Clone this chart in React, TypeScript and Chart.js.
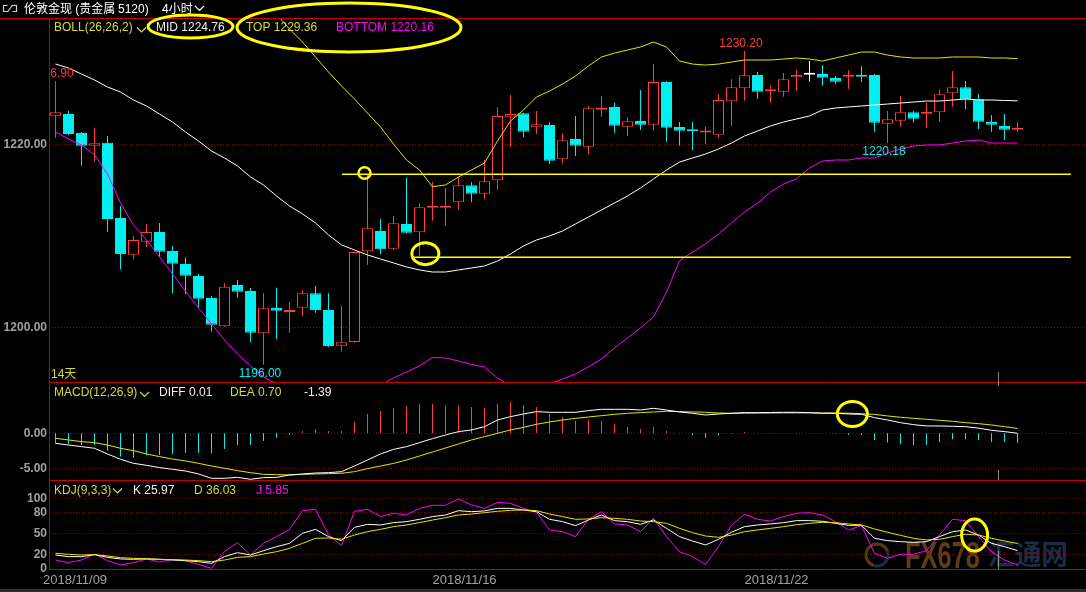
import React, { useEffect, useRef } from 'react';
import { Chart, registerables } from 'chart.js';

Chart.register(...registerables);

// ---------------- data (4-hour candles, London gold) ----------------
const OPEN = [
  1223.14, 1223.32, 1221.25, 1219.87, 1220.2, 1211.99, 1207.99, 1209.41, 1210.46, 1208.39,
  1206.98, 1205.67, 1203.27, 1200.19, 1204.69, 1204.03, 1199.42, 1202.18, 1201.74, 1202.21,
  1203.78, 1201.96, 1198.07, 1198.47, 1208.36, 1210.57, 1208.64, 1211.34, 1210.43, 1213.11,
  1213.1, 1213.7, 1215.55, 1214.64, 1216.1, 1222.96, 1223.4, 1221.87, 1222.13, 1218.39,
  1220.6, 1219.76, 1223.8, 1224.09, 1221.94, 1222.56, 1222.16, 1226.81, 1221.91, 1221.61,
  1221.3, 1221.07, 1224.71, 1226.13, 1227.57, 1225.8, 1225.75, 1227.32, 1227.6, 1227.68,
  1227.25, 1227.39, 1227.57, 1227.57, 1222.27, 1222.59, 1223.51, 1223.35, 1223.51, 1225.58,
  1226.23, 1224.93, 1222.45, 1222.02, 1221.62,
];
const HIGH = [
  1226.9, 1223.65, 1221.36, 1221.83, 1220.93, 1213.3, 1210.03, 1211.34, 1211.44, 1208.94,
  1207.71, 1205.89, 1203.49, 1204.87, 1205.23, 1204.36, 1203.78, 1204.39, 1202.83, 1204.14,
  1204.58, 1203.78, 1202.43, 1208.3, 1216.78, 1211.85, 1212.21, 1216.35, 1213.59, 1215.91,
  1215.29, 1216.49, 1215.91, 1218.31, 1224.05, 1225.4, 1223.45, 1223.65, 1222.42, 1221.22,
  1223.11, 1224.2, 1225.29, 1224.56, 1222.96, 1225.94, 1228.77, 1226.9, 1222.45, 1222.45,
  1221.94, 1225.5, 1227.11, 1230.2, 1227.9, 1226.49, 1227.79, 1228.12, 1229.1, 1228.66,
  1227.47, 1228.12, 1228.56, 1227.68, 1223.65, 1225.29, 1223.65, 1224.56, 1226.02, 1228.01,
  1226.92, 1225.5, 1223.22, 1223.32, 1222.45,
];
const LOW = [
  1220.74, 1221.04, 1217.69, 1218.13, 1210.5, 1206.4, 1207.49, 1208.8, 1207.77, 1203.78,
  1203.67, 1202.26, 1199.6, 1200.14, 1203.3, 1198.44, 1196.0, 1198.8, 1199.49, 1201.34,
  1201.67, 1197.96, 1197.42, 1198.4, 1206.9, 1208.03, 1208.5, 1210.3, 1207.88, 1211.69,
  1211.15, 1212.89, 1213.73, 1214.03, 1215.04, 1219.76, 1220.78, 1221.14, 1217.87, 1217.95,
  1218.75, 1218.93, 1223.03, 1221.29, 1220.93, 1221.58, 1221.5, 1220.31, 1219.87, 1219.4,
  1220.02, 1220.74, 1222.05, 1224.77, 1224.99, 1224.56, 1225.21, 1225.83, 1226.84, 1226.41,
  1226.63, 1226.05, 1226.81, 1221.4, 1220.18, 1221.94, 1222.38, 1221.83, 1222.49, 1224.12,
  1223.87, 1221.69, 1221.4, 1220.49, 1221.4,
];
const CLOSE = [
  1223.51, 1221.14, 1219.87, 1220.13, 1211.88, 1208.07, 1209.59, 1210.46, 1208.32, 1207.01,
  1205.7, 1203.19, 1200.36, 1204.5, 1203.96, 1199.49, 1202.15, 1201.89, 1201.93, 1203.78,
  1201.96, 1198.04, 1198.44, 1208.28, 1210.87, 1208.58, 1211.41, 1210.39, 1213.16, 1213.3,
  1213.2, 1215.55, 1214.64, 1215.99, 1223.11, 1223.32, 1221.4, 1222.2, 1218.23, 1220.46,
  1219.87, 1223.95, 1223.9, 1222.05, 1222.53, 1222.16, 1226.81, 1221.83, 1221.5, 1221.44,
  1221.42, 1224.85, 1226.23, 1227.54, 1225.75, 1225.9, 1227.11, 1227.57, 1227.6, 1227.28,
  1226.84, 1227.54, 1227.39, 1222.38, 1222.75, 1223.51, 1222.81, 1223.45, 1225.47, 1226.23,
  1224.93, 1222.49, 1222.16, 1221.61, 1221.68,
];

const BOLL_MID = [
  1228.77, 1228.34, 1227.68, 1227.03, 1226.27, 1225.72, 1224.85, 1224.2, 1223.32, 1222.45,
  1221.36, 1220.38, 1219.29, 1218.53, 1217.66, 1216.46, 1215.59, 1214.39, 1213.3, 1212.43,
  1211.45, 1210.14, 1209.05, 1208.5, 1207.96, 1207.52, 1207.09, 1206.65, 1206.32, 1206.1,
  1206.1, 1206.32, 1206.54, 1206.76, 1207.3, 1208.07, 1208.94, 1209.59, 1210.03, 1210.57,
  1211.34, 1212.1, 1212.86, 1213.62, 1214.39, 1215.26, 1216.24, 1217.22, 1218.09, 1218.53,
  1218.96, 1219.51, 1220.16, 1220.93, 1221.47, 1222.02, 1222.45, 1222.78, 1223.11, 1223.76,
  1223.98, 1224.09, 1224.2, 1224.31, 1224.41, 1224.52, 1224.63, 1224.74, 1224.74, 1224.85,
  1224.96, 1224.85, 1224.85, 1224.8, 1224.76,
];
const BOLL_TOP = [
  1236.2, 1236.1, 1235.4, 1235.2, 1235.8, 1237.8, 1238.5, 1238.8, 1238.9, 1239.0,
  1238.7, 1238.6, 1238.1, 1238.4, 1238.1, 1237.1, 1235.6, 1234.2, 1232.59, 1231.17,
  1229.54, 1227.9, 1226.38, 1224.96, 1223.43, 1221.91, 1220.05, 1218.31, 1217.22, 1215.4,
  1215.59, 1216.46, 1217.22, 1217.98, 1220.38, 1222.56, 1223.76, 1225.18, 1225.83, 1226.59,
  1227.47, 1228.56, 1229.54, 1229.97, 1230.3, 1230.63, 1231.17, 1230.63, 1229.1, 1228.77,
  1228.66, 1228.77, 1228.99, 1229.21, 1229.21, 1229.21, 1229.32, 1229.43, 1229.32, 1229.1,
  1229.43, 1229.75, 1230.08, 1230.08, 1229.75, 1229.54, 1229.43, 1229.43, 1229.43, 1229.54,
  1229.54, 1229.54, 1229.43, 1229.43, 1229.36,
];
const BOLL_BOTTOM = [
  1221.36, 1220.6, 1219.95, 1218.86, 1216.78, 1213.62, 1211.23, 1209.59, 1207.74, 1205.89,
  1204.03, 1202.18, 1200.44, 1198.69, 1197.17, 1195.86, 1194.66, 1193.9, 1193.3, 1192.9,
  1192.6, 1192.5, 1192.7, 1193.0, 1193.4, 1193.8, 1194.55, 1195.2, 1195.86, 1196.78,
  1196.73, 1196.4, 1196.02, 1195.75, 1194.55, 1193.7, 1193.3, 1193.4, 1193.9, 1194.44,
  1194.99, 1195.75, 1196.62, 1197.82, 1198.91, 1200.0, 1201.2, 1203.92, 1207.3, 1208.28,
  1209.16, 1210.25, 1211.45, 1212.64, 1213.62, 1214.82, 1215.69, 1216.24, 1217.44, 1218.2,
  1218.31, 1218.31, 1218.53, 1218.53, 1219.07, 1219.51, 1219.84, 1219.95, 1219.95, 1220.16,
  1220.38, 1220.49, 1220.16, 1220.16, 1220.16,
];

const MACD_HIST = [
  -1.43, -1.52, -1.67, -1.67, -2.48, -3.33, -3.48, -3.14, -3.1, -2.95,
  -2.76, -2.76, -2.9, -2.24, -1.67, -1.62, -1.1, -0.62, -0.19, 0.33,
  0.62, 0.33, 0.33, 1.62, 2.81, 3.19, 3.6, 3.9, 4.19, 4.19,
  4.05, 4.05, 3.76, 3.62, 4.19, 4.48, 4.05, 3.76, 2.81, 2.33,
  1.81, 1.9, 1.76, 1.33, 0.9, 0.62, 0.9, 0.33, 0.03, -0.29,
  -0.62, -0.29, -0.05, 0.19, 0.03, 0.06, 0.03, 0.08, 0.05, 0.02,
  -0.05, -0.24, -0.19, -0.95, -1.33, -1.52, -1.67, -1.62, -1.24, -0.86,
  -0.86, -0.95, -1.24, -1.24, -1.39,
];
const MACD_DIFF = [
  -1.43, -1.67, -1.9, -2.14, -2.95, -3.71, -4.29, -4.57, -4.9, -5.14,
  -5.38, -5.81, -6.43, -6.43, -6.29, -6.57, -6.33, -6.29, -5.95, -5.81,
  -5.67, -5.62, -5.48, -4.67, -3.81, -2.95, -2.3, -1.9, -1.33, -0.76,
  -0.24, 0.24, 0.48, 0.95, 1.9, 2.38, 2.76, 3.1, 3.0, 3.0,
  3.0, 3.24, 3.43, 3.43, 3.43, 3.33, 3.57, 3.33, 3.05, 2.86,
  2.62, 2.76, 2.86, 2.95, 2.95, 2.98, 3.0, 3.0, 2.95, 2.86,
  2.86, 2.76, 2.71, 2.24, 1.9, 1.52, 1.24, 1.05, 1.05, 1.0,
  0.95, 0.74, 0.43, 0.24, 0.01,
];
const MACD_DEA = [
  -0.71, -0.95, -1.19, -1.33, -1.67, -2.14, -2.48, -2.95, -3.33, -3.67,
  -3.95, -4.29, -4.67, -5.0, -5.33, -5.62, -5.86, -5.9, -5.95, -5.86,
  -5.81, -5.76, -5.71, -5.48, -5.05, -4.67, -4.3, -3.81, -3.24, -2.67,
  -2.1, -1.52, -0.95, -0.48, 0.0, 0.48, 0.86, 1.29, 1.62, 1.9,
  2.14, 2.33, 2.52, 2.71, 2.86, 2.95, 3.05, 3.14, 3.1, 3.05,
  3.0, 2.9, 2.86, 2.88, 2.9, 2.9, 2.92, 2.92, 2.92, 2.9,
  2.9, 2.88, 2.8, 2.7, 2.48, 2.29, 2.14, 2.0, 1.86, 1.71,
  1.52, 1.38, 1.19, 0.95, 0.7,
];

const KDJ_K = [
  19.8, 17.5, 17.5, 20.3, 16.5, 14.2, 13.7, 14.2, 13.7, 12.7,
  11.8, 10.4, 8.0, 17.5, 23.1, 19.8, 25.9, 31.6, 36.3, 50.5,
  56.1, 45.8, 40.1, 59.0, 63.2, 62.3, 65.6, 67.0, 70.3, 74.1,
  76.4, 82.5, 81.1, 82.1, 85.8, 85.8, 83.5, 81.1, 70.3, 67.0,
  61.3, 69.3, 76.4, 68.4, 67.0, 63.2, 69.3, 57.5, 45.8, 39.6,
  34.0, 42.0, 52.0, 59.9, 62.3, 63.7, 65.6, 68.4, 68.4, 67.5,
  64.6, 61.8, 61.8, 43.4, 40.1, 38.7, 37.7, 38.7, 45.8, 52.8,
  55.2, 48.1, 36.3, 31.6, 25.97,
];
const KDJ_D = [
  22.2, 20.8, 19.8, 20.3, 18.4, 16.0, 15.1, 14.6, 13.7, 13.2,
  12.7, 11.8, 10.4, 12.7, 16.5, 17.5, 21.2, 24.5, 29.2, 36.3,
  43.4, 43.9, 42.0, 48.1, 52.8, 56.1, 59.9, 62.3, 65.6, 69.3,
  72.6, 76.4, 77.8, 79.7, 81.6, 83.0, 83.5, 82.5, 77.8, 74.1,
  70.3, 70.8, 72.6, 71.7, 70.3, 67.9, 67.0, 64.6, 57.5, 51.4,
  46.7, 44.8, 48.0, 52.8, 55.2, 57.5, 59.9, 62.7, 64.6, 66.0,
  65.6, 63.7, 62.3, 56.6, 51.9, 47.6, 43.4, 41.0, 42.0, 45.8,
  49.1, 48.1, 43.4, 39.6, 36.03,
];
const KDJ_J = [
  12.7, 9.0, 12.7, 21.2, 11.8, 5.7, 9.0, 14.2, 9.9, 13.7,
  11.3, 6.6, 0.9, 25.0, 37.3, 19.8, 36.3, 45.8, 56.1, 82.5,
  84.4, 48.1, 33.0, 81.6, 84.4, 74.1, 78.8, 76.4, 85.8, 90.1,
  90.1, 99.1, 90.6, 85.8, 94.3, 92.9, 85.8, 80.2, 55.2, 52.8,
  45.8, 70.3, 81.1, 63.7, 62.3, 52.8, 71.7, 45.8, 24.5, 17.5,
  6.6, 31.6, 62.0, 77.4, 70.3, 67.9, 74.1, 78.8, 79.7, 76.4,
  67.0, 55.2, 61.3, 22.2, 15.1, 20.8, 20.8, 25.9, 48.1, 70.3,
  68.4, 45.8, 24.5, 12.7, 5.85,
];

const DATE_LABELS = ['2018/11/09', '2018/11/16', '2018/11/22'];
const DATE_INDEX = [0, 29, 53];
const MAIN_TICKS = [1220, 1200];
const MACD_TICKS = [0, -5];
const KDJ_TICKS = [100, 80, 50, 20, 0];
const KDJ_GRID = [100, 80, 50, 20];
const EXTREMES = [
  { index: 0, kind: 'high' },
  { index: 16, kind: 'low' },
  { index: 53, kind: 'high' },
  { index: 64, kind: 'low' },
];
// hand-drawn marks (in data coordinates)
const SUPPORT_LINES = [
  { value: 1216.75, from: 22.04 },
  { value: 1207.71, from: 27.58 },
];
const SUPPORT_END = 78.1;

// ---------------- layout / style ----------------
const W = 1086;
const LEFT = 49;
const STEP = 13;
const X_MIN = -0.5;
const X_MAX = X_MIN + (W - LEFT) / STEP;

const RED = '#ff3c3c';
const CYAN = '#00f0f0';
const WHITE = '#f0f0f0';
const YLINE = '#e6e600';
const YTEXT = '#d8d83c';
const MAGENTA = '#ff00ff';
const BORDER = '#c80000';
const GRID = '#8c0000';
const GREY = '#a0a0a0';
const MARK = '#ffff00';
const FONT = '12px "Liberation Sans", Arial, sans-serif';
const FONT_B = 'bold 12px "Liberation Sans", Arial, sans-serif';
const FONT_CJK = '12px "Liberation Sans", "Noto Sans CJK SC", sans-serif';

const IDX = OPEN.map((_, i) => i);
const candleColor = (i: number) => (CLOSE[i] > OPEN[i] ? RED : CLOSE[i] < OPEN[i] ? CYAN : '#ffffff');
const pts = (arr: number[]) => arr.map((v, i) => ({ x: i, y: v }));
const last = (arr: number[]) => arr[arr.length - 1].toFixed(2);

function text(ctx: any, s: string, x: number, y: number, color: string, font = FONT, align = 'left', base = 'alphabetic') {
  ctx.font = font;
  ctx.fillStyle = color;
  ctx.textAlign = align;
  ctx.textBaseline = base;
  ctx.fillText(s, x, y);
  return ctx.measureText(s).width;
}
function chevron(ctx: any, x: number, y: number, color: string) {
  ctx.save();
  ctx.strokeStyle = color;
  ctx.lineWidth = 1.2;
  ctx.beginPath();
  ctx.moveTo(x, y);
  ctx.lineTo(x + 4.5, y + 4.5);
  ctx.lineTo(x + 9, y);
  ctx.stroke();
  ctx.restore();
}
function hline(ctx: any, x1: number, x2: number, y: number, color: string, dash: number[] = []) {
  ctx.save();
  ctx.strokeStyle = color;
  ctx.lineWidth = 1;
  ctx.setLineDash(dash);
  ctx.beginPath();
  ctx.moveTo(x1, y);
  ctx.lineTo(x2, y);
  ctx.stroke();
  ctx.restore();
}
function vline(ctx: any, x: number, y1: number, y2: number, color: string) {
  ctx.save();
  ctx.strokeStyle = color;
  ctx.lineWidth = 1;
  ctx.beginPath();
  ctx.moveTo(x, y1);
  ctx.lineTo(x, y2);
  ctx.stroke();
  ctx.restore();
}
function ellipse(ctx: any, cx: number, cy: number, rx: number, ry: number, lw = 3) {
  ctx.save();
  ctx.strokeStyle = MARK;
  ctx.lineWidth = lw;
  ctx.beginPath();
  ctx.ellipse(cx, cy, rx, ry, 0, 0, Math.PI * 2);
  ctx.stroke();
  ctx.restore();
}
function grid(chart: any, values: number[]) {
  const { ctx, chartArea: a } = chart;
  const y = chart.scales.y;
  for (const v of values) hline(ctx, a.left, a.right, Math.floor(y.getPixelForValue(v)) + 0.5, GRID, [1, 2]);
}
function yLabels(chart: any, values: number[], digits: number) {
  const { ctx } = chart;
  const y = chart.scales.y;
  for (const v of values) text(ctx, v.toFixed(digits), 47, y.getPixelForValue(v), GREY, FONT_B, 'right', 'middle');
}
const CURSOR_INDEX = 72.54;

// ---------------- plugins ----------------
const mainPlugin = {
  id: 'mainDecor',
  beforeDatasetsDraw(chart: any) {
    grid(chart, MAIN_TICKS);
  },
  afterDatasetsDraw(chart: any) {
    const { ctx, chartArea: a } = chart;
    const x = chart.scales.x;
    const y = chart.scales.y;
    ctx.save();
    ctx.beginPath();
    ctx.rect(a.left + 1, a.top, a.right - a.left, a.bottom - a.top);
    ctx.clip();
    ctx.strokeStyle = MARK;
    ctx.lineWidth = 1.5;
    for (const s of SUPPORT_LINES) {
      const py = y.getPixelForValue(s.value);
      ctx.beginPath();
      ctx.moveTo(x.getPixelForValue(s.from), py);
      ctx.lineTo(x.getPixelForValue(SUPPORT_END), py);
      ctx.stroke();
    }
    ellipse(ctx, x.getPixelForValue(23.77), y.getPixelForValue(1216.89), 6, 5.8, 2.5);
    ellipse(ctx, x.getPixelForValue(28.45), y.getPixelForValue(1208.1), 13.5, 11, 3);
    for (const m of EXTREMES) {
      const px = x.getPixelForValue(m.index) - 3.5;
      if (m.kind === 'high') {
        text(ctx, HIGH[m.index].toFixed(2), px, y.getPixelForValue(HIGH[m.index]) - 4, RED, FONT, 'center');
      } else {
        text(ctx, LOW[m.index].toFixed(2), px, y.getPixelForValue(LOW[m.index]) + 3, CYAN, FONT, 'center', 'top');
      }
    }
    text(ctx, '14天', 51, 378, YTEXT, FONT_CJK);
    ctx.restore();
  },
  afterDraw(chart: any) {
    const { ctx, chartArea: a } = chart;
    const x = chart.scales.x;
    // borders
    hline(ctx, 0, W, 18.5, BORDER);
    vline(ctx, LEFT + 0.5, 18, a.bottom, BORDER);
    vline(ctx, Math.floor(x.getPixelForValue(CURSOR_INDEX)) + 0.5, a.bottom - 10, a.bottom, '#8c8c8c');
    yLabels(chart, MAIN_TICKS, 2);
    // header: icon + instrument name
    ctx.save();
    ctx.strokeStyle = '#d0d0d0';
    ctx.lineWidth = 1.2;
    ctx.beginPath();
    ctx.moveTo(7.5, 5.5); ctx.lineTo(3.5, 5.5); ctx.lineTo(3.5, 11.5); ctx.lineTo(7.5, 11.5);
    ctx.moveTo(12.5, 5.5); ctx.lineTo(16.5, 5.5); ctx.lineTo(16.5, 11.5); ctx.lineTo(12.5, 11.5);
    ctx.moveTo(7.5, 12); ctx.lineTo(12.5, 5);
    ctx.stroke();
    ctx.restore();
    text(ctx, '伦敦金现 (贵金属', 24, 13, '#ffffff', FONT_CJK);
    text(ctx, '5120)', 118, 13, '#ffffff', FONT_CJK);
    text(ctx, '4小时', 162, 13, '#ffffff', FONT_CJK);
    chevron(ctx, 195, 6, '#ffffff');
    // BOLL legend
    text(ctx, 'BOLL(26,26,2)', 54, 31, YTEXT);
    chevron(ctx, 137, 27.5, YTEXT);
    text(ctx, 'MID ' + last(BOLL_MID), 156, 31, WHITE);
    text(ctx, 'TOP ' + last(BOLL_TOP), 246, 31, YTEXT);
    text(ctx, 'BOTTOM ' + last(BOLL_BOTTOM), 336, 31, MAGENTA);
    ellipse(ctx, 190.5, 26.5, 42.5, 11.5, 3);
    ellipse(ctx, 349, 27.5, 112, 24.5, 3);
  },
};

const macdPlugin = {
  id: 'macdDecor',
  beforeDatasetsDraw(chart: any) {
    grid(chart, MACD_TICKS);
  },
  afterDatasetsDraw(chart: any) {
    const { ctx } = chart;
    const x = chart.scales.x;
    const y = chart.scales.y;
    ellipse(ctx, x.getPixelForValue(61.3), y.getPixelForValue(2.76), 15, 12.5, 3);
  },
  afterDraw(chart: any) {
    const { ctx, chartArea: a } = chart;
    const x = chart.scales.x;
    hline(ctx, LEFT, W, 0.5, BORDER);
    vline(ctx, LEFT + 0.5, 0, a.bottom, BORDER);
    const cx = Math.floor(x.getPixelForValue(CURSOR_INDEX)) + 0.5;
    vline(ctx, cx, 0, 4, '#8c8c8c');
    vline(ctx, cx, a.bottom - 10, a.bottom, '#8c8c8c');
    yLabels(chart, MACD_TICKS, 2);
    text(ctx, 'MACD(12,26,9)', 54, 14, YTEXT);
    chevron(ctx, 140, 10, YTEXT);
    text(ctx, 'DIFF ' + last(MACD_DIFF), 159, 14, WHITE);
    text(ctx, 'DEA ' + last(MACD_DEA), 230, 14, YTEXT);
    text(ctx, last(MACD_HIST), 304, 14, WHITE);
  },
};

const kdjPlugin = {
  id: 'kdjDecor',
  beforeDatasetsDraw(chart: any) {
    const { ctx } = chart;
    // watermark
    ctx.save();
    ctx.lineWidth = 3;
    ctx.strokeStyle = '#5a3814';
    ctx.beginPath();
    ctx.arc(877, 75, 11, Math.PI * 0.6, Math.PI * 1.9);
    ctx.stroke();
    ctx.strokeStyle = '#1c2c46';
    ctx.beginPath();
    ctx.arc(877, 75, 11, Math.PI * 1.9, Math.PI * 2.6);
    ctx.stroke();
    ctx.font = 'bold 36px "Liberation Sans", Arial, sans-serif';
    const w1 = ctx.measureText('FX678').width;
    ctx.translate(905, 88);
    ctx.scale(75 / w1, 1);
    ctx.fillStyle = '#5e3c16';
    ctx.textAlign = 'left';
    ctx.textBaseline = 'alphabetic';
    ctx.fillText('FX678', 0, 0);
    ctx.restore();
    ctx.save();
    ctx.font = 'bold 28px "Noto Sans CJK SC", sans-serif';
    const w2 = ctx.measureText('汇通网').width;
    ctx.translate(988, 85);
    ctx.scale(80 / w2, 1);
    ctx.fillStyle = '#1c2c46';
    ctx.textAlign = 'left';
    ctx.textBaseline = 'alphabetic';
    ctx.fillText('汇通网', 0, 0);
    ctx.restore();
    grid(chart, KDJ_GRID);
  },
  afterDatasetsDraw(chart: any) {
    const { ctx } = chart;
    const x = chart.scales.x;
    const y = chart.scales.y;
    ellipse(ctx, x.getPixelForValue(70.7), y.getPixelForValue(48), 13, 16, 3);
  },
  afterDraw(chart: any) {
    const { ctx, chartArea: a } = chart;
    const x = chart.scales.x;
    hline(ctx, LEFT, W, 0.5, BORDER);
    hline(ctx, LEFT, W, a.bottom + 0.5, BORDER);
    vline(ctx, LEFT + 0.5, 0, a.bottom + 1, BORDER);
    vline(ctx, Math.floor(x.getPixelForValue(CURSOR_INDEX)) + 0.5, a.bottom - 18, a.bottom, '#8c8c8c');
    yLabels(chart, KDJ_TICKS, 0);
    text(ctx, 'KDJ(9,3,3)', 54, 14, YTEXT);
    chevron(ctx, 113, 8.5, YTEXT);
    text(ctx, 'K ' + last(KDJ_K), 133, 14, WHITE);
    text(ctx, 'D ' + last(KDJ_D), 194, 14, YTEXT);
    text(ctx, 'J ' + last(KDJ_J), 256, 14, MAGENTA);
    DATE_LABELS.forEach((s, k) => {
      const i = DATE_INDEX[k];
      const px = i === 0 ? a.left - 6 : x.getPixelForValue(i);
      text(ctx, s, px, a.bottom + 15, GREY, '13px "Liberation Sans", Arial, sans-serif');
    });
    ctx.save();
    ctx.fillStyle = '#2e2e2e';
    ctx.fillRect(0, chart.height - 3, W, 3);
    ctx.restore();
  },
};

// ---------------- configs ----------------
function baseOptions(yMin: number, yMax: number, padding: any) {
  return {
    responsive: false,
    maintainAspectRatio: false,
    animation: false,
    devicePixelRatio: 1,
    events: [],
    layout: { padding },
    plugins: { legend: { display: false }, tooltip: { enabled: false } },
    scales: {
      x: { type: 'linear', display: false, min: X_MIN, max: X_MAX, offset: false },
      y: { type: 'linear', display: false, min: yMin, max: yMax },
    },
  };
}
const lineDs = (data: number[], color: string, order = 0) => ({
  type: 'line',
  data: pts(data),
  borderColor: color,
  borderWidth: 1,
  pointRadius: 0,
  fill: false,
  tension: 0,
  order,
});

function mainConfig(): any {
  return {
    type: 'bar',
    data: {
      datasets: [
        lineDs(BOLL_MID, '#ffffff'),
        lineDs(BOLL_TOP, YLINE),
        lineDs(BOLL_BOTTOM, MAGENTA),
        {
          type: 'bar',
          data: IDX.map((i) => ({ x: i, y: [OPEN[i], CLOSE[i]] })),
          backgroundColor: IDX.map((i) => (CLOSE[i] > OPEN[i] ? '#000000' : candleColor(i))),
          borderColor: IDX.map(candleColor),
          borderWidth: 1,
          borderSkipped: false,
          barThickness: 11,
          grouped: false,
          inflateAmount: 0,
          minBarLength: 2,
          order: 1,
        },
        {
          type: 'bar',
          data: IDX.map((i) => ({ x: i, y: [LOW[i], HIGH[i]] })),
          backgroundColor: IDX.map(candleColor),
          borderWidth: 0,
          barThickness: 1,
          grouped: false,
          inflateAmount: 0,
          order: 2,
        },
      ],
    },
    options: baseOptions(1194.11, 1233.79, { left: LEFT, top: 18, right: 0, bottom: 0 }),
    plugins: [mainPlugin],
  };
}
function macdConfig(): any {
  return {
    type: 'bar',
    data: {
      datasets: [
        lineDs(MACD_DIFF, '#ffffff'),
        lineDs(MACD_DEA, YLINE),
        {
          type: 'bar',
          data: pts(MACD_HIST),
          backgroundColor: MACD_HIST.map((v) => (v >= 0 ? RED : CYAN)),
          borderWidth: 0,
          barThickness: 1,
          grouped: false,
          inflateAmount: 0,
          order: 1,
        },
      ],
    },
    options: baseOptions(-6.67, 7.33, { left: LEFT, top: 0, right: 0, bottom: 0 }),
    plugins: [macdPlugin],
  };
}
function kdjConfig(): any {
  return {
    type: 'bar',
    data: {
      datasets: [lineDs(KDJ_D, YLINE), lineDs(KDJ_K, '#ffffff'), lineDs(KDJ_J, MAGENTA)],
    },
    options: baseOptions(0, 125.9, { left: LEFT, top: 0, right: 0, bottom: 23 }),
    plugins: [kdjPlugin],
  };
}

export default function App() {
  const mainRef = useRef<HTMLCanvasElement>(null);
  const macdRef = useRef<HTMLCanvasElement>(null);
  const kdjRef = useRef<HTMLCanvasElement>(null);
  useEffect(() => {
    document.body.style.background = '#000';
    const charts = [
      new Chart(mainRef.current as HTMLCanvasElement, mainConfig()),
      new Chart(macdRef.current as HTMLCanvasElement, macdConfig()),
      new Chart(kdjRef.current as HTMLCanvasElement, kdjConfig()),
    ];
    return () => charts.forEach((c) => c.destroy());
  }, []);
  const cs: any = { position: 'absolute', left: 0, display: 'block' };
  return (
    <div style={{ position: 'absolute', left: 0, top: 0, width: W, height: 592, background: '#000', overflow: 'hidden' }}>
      <canvas ref={mainRef} width={W} height={382} style={{ ...cs, top: 0, width: W, height: 382 }} />
      <canvas ref={macdRef} width={W} height={98} style={{ ...cs, top: 382, width: W, height: 98 }} />
      <canvas ref={kdjRef} width={W} height={112} style={{ ...cs, top: 480, width: W, height: 112 }} />
    </div>
  );
}
